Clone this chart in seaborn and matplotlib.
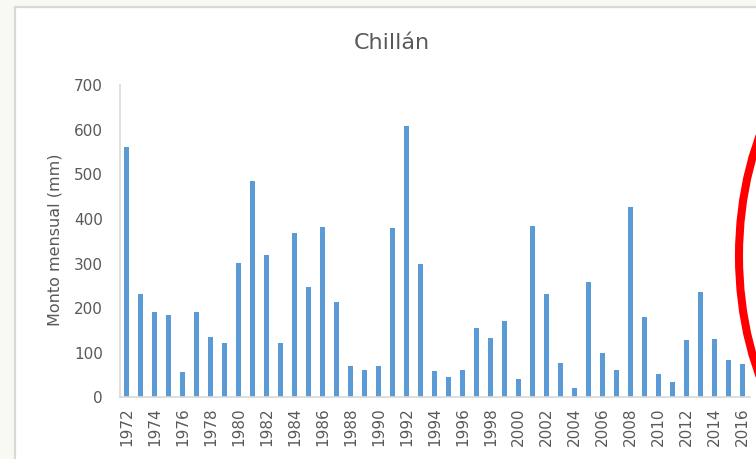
import pandas as pd
import matplotlib.pyplot as plt
from matplotlib.patches import Rectangle, Ellipse
import seaborn as sns

# ====== Data ======
years = [str(y) for y in range(1972, 2017)]
rainfall = [561, 232, 191, 185, 57, 191, 135, 121, 302, 486,
            319, 121, 368, 248, 381, 214, 70, 61, 70, 379,
            608, 298, 59, 46, 61, 155, 132, 171, 41, 384,
            232, 77, 21, 259, 100, 61, 427, 180, 52, 34,
            128, 236, 130, 84, 75]
ytick_values = [0, 100, 200, 300, 400, 500, 600, 700]

df = pd.DataFrame({'Year': years, 'Monto': rainfall})

sns.set_style("white")
plt.rcParams['font.family'] = ['DejaVu Sans']
text_color = '#595959'
axis_color = '#D9D9D9'

W, H = 756, 459
fig = plt.figure(figsize=(W / 100, H / 100), dpi=100, facecolor='#F9F9F4')

# chart area (white, light border)
fig.add_artist(Rectangle((15 / 100, -0.2), 10, (H - 7) / 100 + 0.2,
                         transform=fig.dpi_scale_trans, facecolor='white',
                         edgecolor=axis_color, linewidth=1.6, zorder=0))

ax = fig.add_axes([119.5 / W, (H - 397.3) / H, (749.7 - 119.5) / W, (397.3 - 85.3) / H])
ax.set_facecolor('none')

sns.barplot(data=df, x='Year', y='Monto', color='#5B9BD5', saturation=1,
            width=0.38, linewidth=0, ax=ax)

ax.set_xlim(-0.5, len(years) - 0.5)
ax.set_ylim(0, 700)
ax.set_yticks(ytick_values)
ax.set_xticks(range(0, len(years), 2))
ax.set_xticklabels(years[::2], rotation=90)
ax.tick_params(axis='both', length=0, labelsize=11, labelcolor=text_color)
ax.tick_params(axis='y', pad=12)
ax.tick_params(axis='x', pad=7)
ax.set_xlabel('')
ax.set_ylabel('')

for side in ['top', 'right']:
    ax.spines[side].set_visible(False)
for side in ['left', 'bottom']:
    ax.spines[side].set_color(axis_color)
    ax.spines[side].set_linewidth(1.2)

fig.text(55 / W, (H - 240) / H, 'Monto mensual (mm)', rotation=90,
         ha='center', va='center', fontsize=11.5, color=text_color)
fig.text(392 / W, (H - 43) / H, 'Chillán', ha='center', va='center',
         fontsize=16, color=text_color)

# red circle annotation (partly outside the picture)
fig.add_artist(Ellipse((8.79, (H - 256) / 100), 2.8, 4.6,
                       transform=fig.dpi_scale_trans, fill=False,
                       edgecolor='#FF0000', linewidth=5.8, zorder=5))

fig.savefig('out.png', dpi=100, facecolor=fig.get_facecolor())
